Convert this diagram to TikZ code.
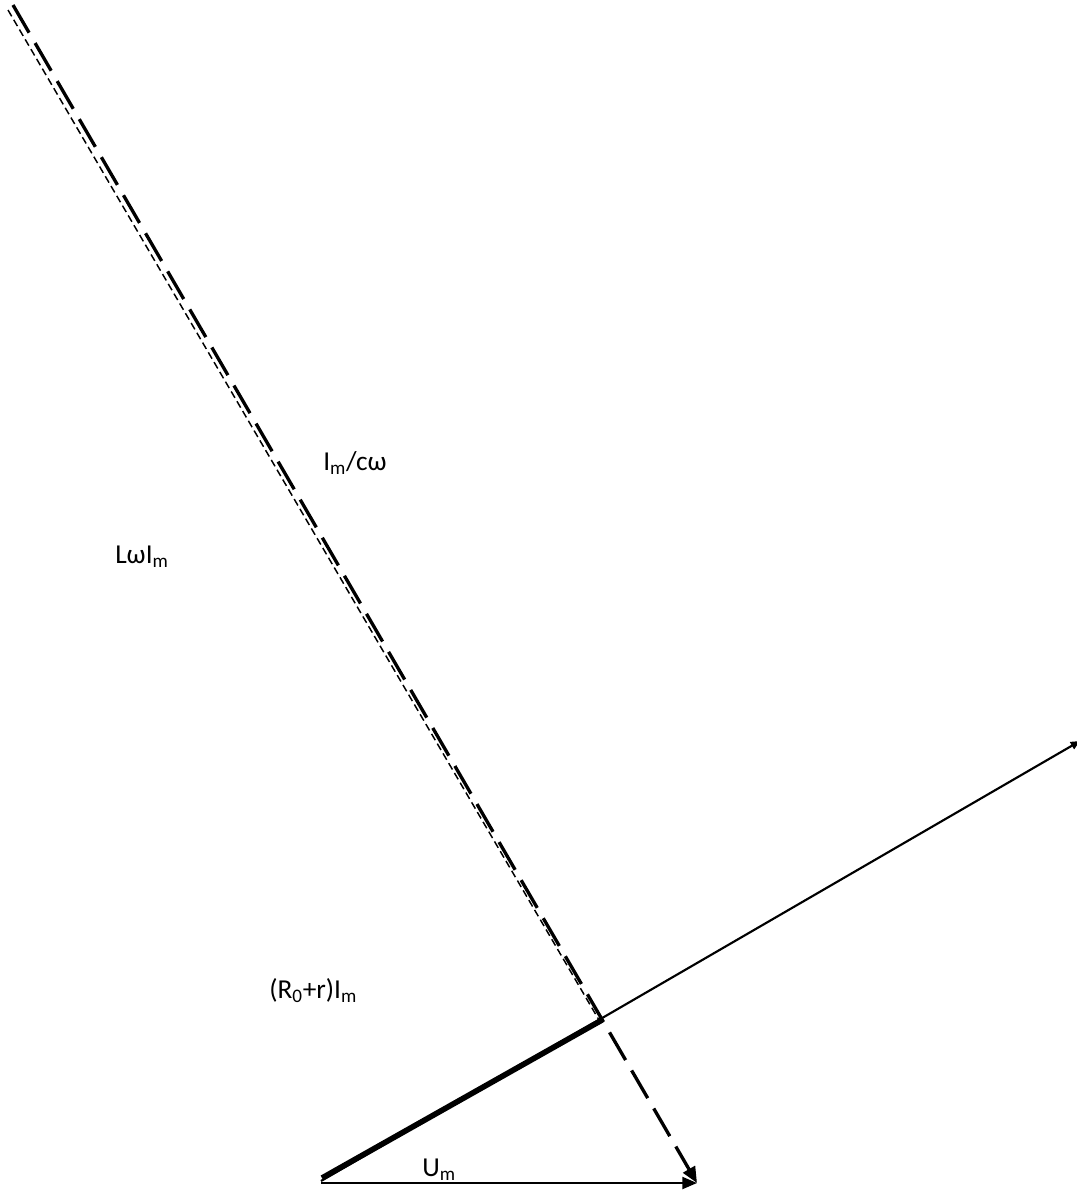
\documentclass[tikz,border=0pt]{standalone}
\usepackage{fontspec}
\setmainfont{Carlito}
\usetikzlibrary{arrows.meta}
\tikzset{
  lbl/.style={anchor=base west, inner sep=0pt, font=\fontsize{20.5pt}{24pt}\selectfont},
  thinvec/.style={line width=1.6pt, -{Triangle[length=7pt,width=6pt]}},
  thickvec/.style={line width=4.2pt},
  basevec/.style={line width=1.6pt, -{Triangle[length=11pt,width=9pt]}},
  longdash/.style={line width=2.5pt, dash pattern=on 24pt off 9pt, -{Triangle[length=12pt,width=10pt]}},
  finedash/.style={line width=1.1pt, dash pattern=on 5.5pt off 3pt}
}
\begin{document}
\begin{tikzpicture}[x=0.75pt,y=-0.75pt]
\useasboundingbox (0,0) rectangle (1077,1192);
% points
\coordinate (O) at (321,1181);
\coordinate (Ot) at (322,1178);
\coordinate (P) at (1080,741);
\coordinate (K) at (602,1020);
\coordinate (U) at (697,1183);
\coordinate (D0) at (13,5);
\coordinate (F0) at (8,10);
\coordinate (F1) at (599,1020);
% vectors
\draw[thinvec] (O) -- (P);
\draw[thickvec] (Ot) -- (K);
\draw[basevec] (O |- U) coordinate (Ub) -- (U);
\draw[finedash] (F0) -- (F1);
\draw[longdash] (D0) -- (U);
% labels
\node[lbl] (t1) at (323,470) {I\textsubscript{m}/cω};
\node[lbl] (t2) at (115,563) {LωI\textsubscript{m}};
\node[lbl] (t3) at (269,998) {(R\textsubscript{0}+r)I\textsubscript{m}};
\node[lbl] (t4) at (422,1176) {U\textsubscript{m}};
\end{tikzpicture}
\end{document}
